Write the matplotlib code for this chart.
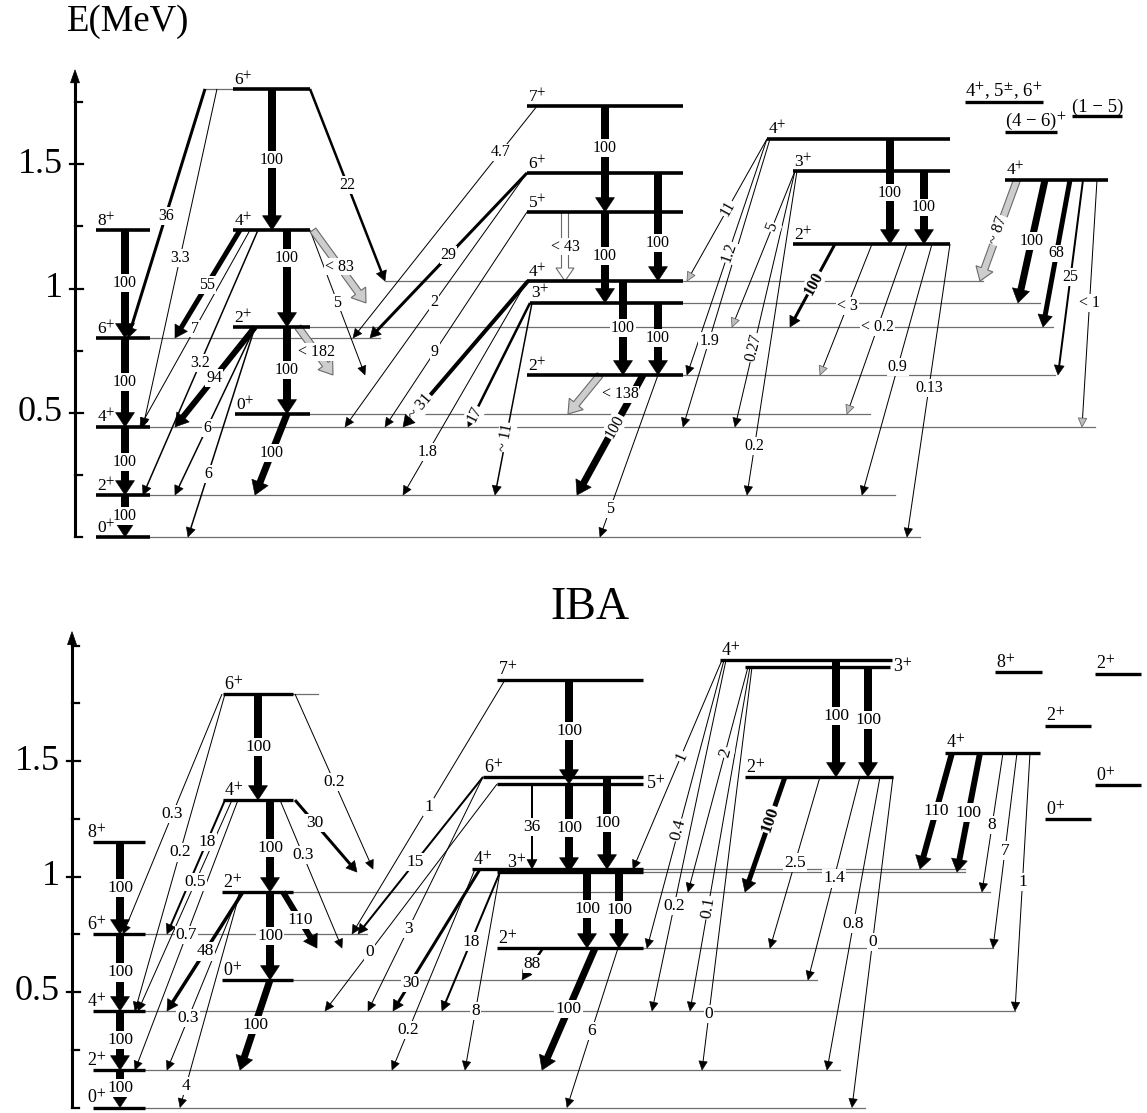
import numpy as np
import matplotlib.pyplot as plt
from matplotlib.patches import Polygon

plt.rcParams['font.family'] = ['Liberation Serif', 'DejaVu Serif']
plt.rcParams['mathtext.fontset'] = 'stix'

# ---------------- experimental scheme ----------------
exp_keys = ['g0', 'g2', 'g4', 'g6', 'g8', 'b0', 'b2', 'b4', 'b6',
            'c2', 'c3', 'c4', 'c5', 'c6', 'c7', 'd2', 'd3', 'd4', 'e4']
exp_spins = ['0', '2', '4', '6', '8', '0', '2', '4', '6',
             '2', '3', '4', '5', '6', '7', '2', '3', '4', '4']
exp_energy = [0.000, 0.169, 0.443, 0.801, 1.235, 0.495, 0.845, 1.235, 1.803,
              0.652, 0.942, 1.030, 1.308, 1.465, 1.734, 1.179, 1.473, 1.602, 1.437]

# unresolved groups of states (text above a line)
exp_group_text = [r'4$^{+}$, 5$^{\pm}$, 6$^{+}$', r'(4 − 6)$^{+}$', '(1 − 5)']
exp_group_energy = [1.750, 1.630, 1.694]

# (from, to, relative intensity)
exp_gammas = [
    ('g8', 'g6', '100'), ('g6', 'g4', '100'), ('g4', 'g2', '100'), ('g2', 'g0', '100'),
    ('b6', 'b4', '100'), ('b4', 'b2', '100'), ('b2', 'b0', '100'), ('b0', 'g2', '100'),
    ('b6', 'g6', '36'), ('b6', 'g4', '3.3'), ('b6', 'c4', '22'),
    ('b4', 'g6', '55'), ('b4', 'g4', '7'), ('b4', 'g2', '3.2'), ('b4', 'c2', '5'),
    ('b4', 'c3', '< 83'),
    ('b2', 'g4', '94'), ('b2', 'g2', '6'), ('b2', 'g0', '6'), ('b2', 'c2', '< 182'),
    ('c7', 'c5', '100'), ('c6', 'c4', '100'), ('c5', 'c3', '100'), ('c4', 'c2', '100'),
    ('c3', 'c2', '100'), ('c5', 'c4', '< 43'),
    ('c2', 'g2', '100'), ('c2', 'g0', '5'), ('c2', 'b0', '< 138'),
    ('c7', 'g6', '4.7'), ('c6', 'g6', '29'), ('c6', 'g4', '2'), ('c5', 'g4', '9'),
    ('c4', 'g4', '~ 31'), ('c4', 'g2', '1.8'), ('c3', 'g4', '17'), ('c3', 'g2', '~ 11'),
    ('d4', 'c4', '11'), ('d4', 'c2', '1.2'), ('d4', 'g4', '1.9'),
    ('d3', 'b2', '5'), ('d3', 'g4', '0.27'), ('d3', 'g2', '0.2'),
    ('d4', 'd2', '100'), ('d3', 'd2', '100'),
    ('d2', 'b2', '100'), ('d2', 'c2', '< 3'), ('d2', 'b0', '< 0.2'),
    ('d2', 'g2', '0.9'), ('d2', 'g0', '0.13'),
    ('e4', 'c4', '~ 87'), ('e4', 'c3', '100'), ('e4', 'b2', '68'),
    ('e4', 'c2', '25'), ('e4', 'g4', '< 1'),
]

# ---------------- IBA calculation ----------------
iba_keys = ['g0', 'g2', 'g4', 'g6', 'g8', 'b0', 'b2', 'b4', 'b6',
            'c2', 'c3', 'c4', 'c5', 'c6', 'c7', 'd2', 'd3', 'd4', 'e4',
            'f8', 'f2a', 'f2b', 'f0a', 'f0b']
iba_spins = ['0', '2', '4', '6', '8', '0', '2', '4', '6',
             '2', '3', '4', '5', '6', '7', '2', '3', '4', '4',
             '8', '2', '2', '0', '0']
iba_energy = [0.000, 0.162, 0.418, 0.751, 1.149, 0.552, 0.933, 1.331, 1.790,
              0.690, 1.019, 1.032, 1.400, 1.431, 1.851, 1.431, 1.907, 1.937, 1.535,
              1.885, 1.877, 1.652, 1.396, 1.249]

iba_gammas = [
    ('g8', 'g6', '100'), ('g6', 'g4', '100'), ('g4', 'g2', '100'), ('g2', 'g0', '100'),
    ('b6', 'b4', '100'), ('b4', 'b2', '100'), ('b2', 'b0', '100'), ('b0', 'g2', '100'),
    ('b2', 'c2', '110'),
    ('b6', 'g6', '0.3'), ('b6', 'g4', '0.2'), ('b6', 'c4', '0.2'),
    ('b4', 'g6', '18'), ('b4', 'g4', '0.5'), ('b4', 'g2', '0.7'), ('b4', 'c2', '0.3'),
    ('b4', 'c3', '30'),
    ('b2', 'g4', '48'), ('b2', 'g2', '0.3'), ('b2', 'g0', '4'),
    ('c7', 'c5', '100'), ('c5', 'c3', '100'), ('c6', 'c4', '100'), ('c5', 'c4', '36'),
    ('c4', 'c2', '100'), ('c3', 'c2', '100'),
    ('c7', 'g6', '1'), ('c6', 'g6', '15'), ('c6', 'g4', '3'), ('c5', 'g4', '0'),
    ('c4', 'g4', '30'), ('c4', 'g2', '0.2'), ('c3', 'g4', '18'), ('c3', 'g2', '8'),
    ('c2', 'g2', '100'), ('c2', 'g0', '6'), ('c2', 'b0', '88'),
    ('d4', 'c4', '1'), ('d4', 'c2', '0.4'), ('d3', 'b2', '2'),
    ('d4', 'g4', '0.2'), ('d3', 'g4', '0.1'), ('d3', 'g2', '0'),
    ('d4', 'd2', '100'), ('d3', 'd2', '100'),
    ('d2', 'b2', '100'), ('d2', 'c2', '2.5'), ('d2', 'b0', '1.4'),
    ('d2', 'g2', '0.8'), ('d2', 'g0', '0'),
    ('e4', 'c4', '110'), ('e4', 'c3', '100'), ('e4', 'b2', '8'),
    ('e4', 'c2', '7'), ('e4', 'g4', '1'),
]

# ---------------- layout (horizontal placement, widths, styles) ----------------
# level: thick x0, x1, thin line from, to, place of the spin label
exp_level_x = [
    (96, 150, 150, 920, 'l'), (96, 150, 150, 895, 'l'), (96, 150, 150, 1095, 'l'),
    (96, 150, 150, 380, 'l'), (96, 150, None, None, 'l'),
    (235, 310, 310, 870, 'l'), (233, 310, 310, 1053, 'l'), (233, 310, None, None, 'l'),
    (233, 310, 205, 233, 'l'),
    (527, 683, 683, 1055, 'l'), (530, 683, 683, 1040, 'l'), (527, 683, 385, 983, 'l'),
    (527, 683, None, None, 'l'), (527, 683, None, None, 'l'), (527, 683, None, None, 'l'),
    (793, 950, None, None, 'l'), (793, 950, None, None, 'l'), (767, 950, None, None, 'l'),
    (1005, 1108, None, None, 'l'),
]
exp_group_x = [(965, 1043), (1005, 1057), (1072, 1122)]

# arrow: x start, x end, shaft width px, kind, label position along arrow,
# label rotation (0 flat, 1 along arrow, 2 along arrow bold), label x shift px
exp_gamma_x = [
    (125, 125, 8, 'k', 0.49, 0, 0), (125, 125, 8, 'k', 0.5, 0, 0),
    (125, 125, 8, 'k', 0.51, 0, 0), (125, 125, 8, 'k', 0.5, 0, 0),
    (272, 272, 8, 'k', 0.5, 0, 0), (287, 287, 8, 'k', 0.29, 0, 0),
    (287, 287, 8, 'k', 0.49, 0, 0), (287, 255, 7, 'k', 0.48, 0, 0),
    (205, 128, 3, 'k', 0.51, 0, 0), (217, 143, 1, 'k', 0.5, 0, 0),
    (310, 385, 2.5, 'k', 0.5, 0, 0),
    (240, 175, 5, 'k', 0.51, 0, 0), (250, 140, 1, 'k', 0.5, 0, 0),
    (258, 143, 1.5, 'k', 0.5, 0, 0), (310, 365, 1, 'k', 0.5, 0, 0),
    (313, 366, 0, 'g', 0.5, 0, 0),
    (255, 175, 6, 'k', 0.51, 0, 0), (255, 175, 1.5, 'k', 0.6, 0, 0),
    (255, 188, 1.5, 'k', 0.7, 0, 0), (298, 333, 0, 'g', 0.52, 0, 0),
    (605, 605, 8, 'k', 0.4, 0, 0), (658, 658, 8, 'k', 0.65, 0, 0),
    (605, 605, 8, 'k', 0.48, 0, 0), (623, 623, 8, 'k', 0.5, 0, 0),
    (658, 658, 8, 'k', 0.49, 0, 0), (565, 565, 0, 'h', 0.5, 0, 0),
    (643, 577, 7, 'k', 0.43, 1, 0), (658, 600, 1, 'k', 0.83, 0, 0),
    (600, 568, 0, 'g', 0.5, 0, 36),
    (537, 353, 1, 'k', 0.2, 0, 0), (527, 370, 3, 'k', 0.5, 0, 0),
    (527, 345, 1, 'k', 0.51, 0, 0), (527, 385, 1, 'k', 0.65, 0, 0),
    (528, 403, 4, 'k', 0.86, 1, 0), (527, 403, 1, 'k', 0.8, 0, 0),
    (530, 468, 2.5, 'k', 0.9, 1, 0), (532, 495, 1.5, 'k', 0.7, 1, 0),
    (767, 687, 1, 'o', 0.49, 1, 0), (767, 687, 1, 'k', 0.48, 1, 0),
    (770, 683, 1, 'k', 0.7, 0, 0),
    (795, 732, 1, 'o', 0.36, 1, 0), (795, 735, 1, 'k', 0.69, 1, 0),
    (797, 747, 1, 'k', 0.85, 0, 0),
    (890, 890, 8, 'k', 0.51, 0, 0), (924, 924, 8, 'k', 0.5, 0, 0),
    (835, 790, 3, 'k', 0.47, 2, 0), (872, 820, 1, 'o', 0.47, 0, 0),
    (907, 847, 1, 'o', 0.49, 0, 0),
    (932, 862, 1, 'k', 0.49, 0, 0), (950, 907, 1, 'k', 0.49, 0, 0),
    (1017, 980, 0, 'g', 0.5, 1, 0), (1045, 1018, 7, 'k', 0.5, 0, 0),
    (1070, 1043, 5, 'k', 0.5, 0, 0), (1083, 1058, 2, 'k', 0.5, 0, 0),
    (1097, 1082, 1, 'o', 0.5, 0, 0),
]

iba_level_x = [
    (93, 145, 145, 865, 'L'), (93, 145, 145, 840, 'L'), (93, 145, 145, 1015, 'L'),
    (93, 145, 145, 367, 'L'), (93, 145, None, None, 'L'),
    (222, 293, 293, 817, 'l'), (222, 293, 293, 990, 'l'), (223, 293, None, None, 'l'),
    (223, 293, 293, 318, 'l'),
    (497, 643, 643, 993, 'l'), (497, 643, 643, 965, 'l3'), (472, 643, 643, 965, 'l'),
    (497, 643, None, None, 'r'), (483, 643, None, None, 'l'), (497, 643, None, None, 'l'),
    (745, 893, None, None, 'l'), (745, 890, None, None, 'r'), (720, 892, None, None, 'l'),
    (945, 1040, None, None, 'l'),
    (995, 1042, None, None, 'l'), (1095, 1141, None, None, 'l'),
    (1045, 1091, None, None, 'l'), (1095, 1141, None, None, 'l'),
    (1045, 1091, None, None, 'l'),
]

iba_gamma_x = [
    (120, 120, 8, 'k', 0.5, 0, 0), (120, 120, 8, 'k', 0.5, 0, 0),
    (120, 120, 8, 'k', 0.49, 0, 0), (120, 120, 8, 'k', 0.49, 0, 0),
    (258, 258, 8, 'k', 0.5, 0, 0), (270, 270, 8, 'k', 0.52, 0, 0),
    (270, 270, 8, 'k', 0.5, 0, 0), (270, 240, 7, 'k', 0.5, 0, 0),
    (283, 317, 6, 'k', 0.5, 0, 0),
    (222, 123, 1, 'k', 0.5, 0, 0), (225, 135, 1, 'k', 0.5, 0, 0),
    (295, 373, 1, 'k', 0.5, 0, 0),
    (225, 167, 2, 'k', 0.31, 0, 0), (232, 138, 1, 'k', 0.39, 0, 0),
    (238, 135, 1, 'k', 0.5, 0, 0), (280, 342, 1, 'k', 0.37, 0, 0),
    (295, 357, 3, 'k', 0.32, 0, 0),
    (243, 167, 3.5, 'k', 0.5, 0, 0), (240, 167, 1, 'k', 0.71, 0, 0),
    (240, 180, 1, 'k', 0.9, 0, 0),
    (569, 569, 8, 'k', 0.49, 0, 0), (569, 569, 8, 'k', 0.5, 0, 0),
    (607, 607, 8, 'k', 0.5, 0, 0), (532, 532, 2, 'k', 0.5, 0, 0),
    (587, 587, 8, 'k', 0.5, 0, 0), (619, 619, 8, 'k', 0.5, 0, 0),
    (505, 352, 1, 'k', 0.5, 0, 0), (483, 358, 2, 'k', 0.54, 0, 0),
    (483, 368, 1, 'k', 0.65, 0, 0), (497, 325, 1, 'k', 0.74, 0, 0),
    (480, 393, 3, 'k', 0.8, 0, 0), (475, 392, 1, 'k', 0.8, 0, 0),
    (500, 442, 2, 'k', 0.5, 0, 0), (500, 465, 1, 'k', 0.7, 0, 0),
    (595, 542, 7, 'k', 0.5, 0, 0), (618, 567, 1, 'k', 0.52, 0, 0),
    (543, 522, 2.5, 'k', 0.5, 0, 0),
    (722, 633, 1, 'k', 0.46, 1, 0), (724, 647, 1, 'k', 0.59, 1, 0),
    (748, 688, 1, 'k', 0.38, 1, 0),
    (726, 652, 1, 'k', 0.7, 0, 0), (750, 690, 1, 'k', 0.7, 1, 0),
    (752, 702, 1, 'k', 0.86, 0, 0),
    (836, 836, 8, 'k', 0.48, 0, 0), (868, 868, 8, 'k', 0.48, 0, 0),
    (785, 745, 5, 'k', 0.37, 2, 0), (820, 770, 1, 'k', 0.5, 0, 0),
    (860, 808, 1, 'k', 0.5, 0, 0),
    (880, 827, 1, 'k', 0.5, 0, 0), (893, 852, 1, 'k', 0.5, 0, 0),
    (952, 920, 6, 'k', 0.5, 0, 0), (980, 957, 6, 'k', 0.5, 0, 0),
    (1003, 982, 1, 'k', 0.52, 0, 0), (1017, 993, 1, 'k', 0.5, 0, 0),
    (1030, 1015, 1, 'k', 0.5, 0, 0),
]

major_ticks = [0.5, 1.0, 1.5]
exp_minor = [0.0, 0.25, 0.75, 1.25, 1.75]
iba_minor = [0.0, 0.25, 0.75, 1.25, 1.75, 2.0]


def arrow(ax, xa, ea, xb, eb, w, kind):
    fwd = ax.transData.transform
    inv = ax.transData.inverted().transform
    p0, p1 = fwd((xa, ea)), fwd((xb, eb))
    d = p1 - p0
    u = d / np.hypot(*d)
    n = np.array([-u[1], u[0]])
    if kind in ('g', 'h'):
        # broad outlined arrow
        sw, hw, hl = 3.5, 9.0, 13.0
        base = p1 - u * hl
        pts = [p0 + n * sw, base + n * sw, base + n * hw, p1,
               base - n * hw, base - n * sw, p0 - n * sw]
        fc = '#cdcdcd' if kind == 'g' else 'white'
        ax.add_patch(Polygon(inv(np.array(pts)), closed=True, fc=fc,
                             ec='#6a6a6a', lw=0.8, zorder=2))
        return
    hw = 7 + 1.5 * w
    hl = 8 + 0.8 * w
    base = p1 - u * hl
    sh = inv(np.array([p0, base + u]))
    ax.plot(sh[:, 0], sh[:, 1], color='k', lw=w * 0.72,
            solid_capstyle='butt', zorder=2)
    head = inv(np.array([p1, base + n * hw / 2, base - n * hw / 2]))
    if kind == 'o':
        ax.add_patch(Polygon(head, closed=True, fc='#bdbdbd', ec='#6a6a6a',
                             lw=0.6, zorder=2))
    else:
        ax.add_patch(Polygon(head, closed=True, fc='k', ec='k', lw=0.4, zorder=2))


def draw_scheme(ax, keys, spins, energy, level_x, gammas, gamma_x,
                fs_gamma, fs_spin, lw_level):
    E = dict(zip(keys, energy))
    for s, e, (x0, x1, ta, tb, side) in zip(spins, energy, level_x):
        if ta is not None:
            ax.plot([ta, tb], [e, e], color='#6e6e6e', lw=0.9, zorder=1)
        ax.plot([x0, x1], [e, e], color='k', lw=lw_level,
                solid_capstyle='butt', zorder=3)
        txt = s + r'$^{+}$'
        if side == 'r':
            ax.text(x1 + 3, e, txt, ha='left', va='center', fontsize=fs_spin, zorder=6)
        else:
            dx = {'l': 1, 'L': -6, 'l3': 10}[side]
            ax.text(x0 + dx, e, txt, ha='left', va='bottom', fontsize=fs_spin, zorder=6)

    fwd = ax.transData.transform
    inv = ax.transData.inverted().transform
    for (a, b, lab), (xa, xb, w, kind, t, rot, shift) in zip(gammas, gamma_x):
        arrow(ax, xa, E[a], xb, E[b], w, kind)
        p0, p1 = fwd((xa, E[a])), fwd((xb, E[b]))
        p = p0 + t * (p1 - p0) + np.array([shift, 0])
        lx, ly = inv(p)
        ang = 0.0
        if rot:
            ang = np.degrees(np.arctan2(p1[1] - p0[1], p1[0] - p0[0]))
            if ang <= -90:
                ang += 180
            elif ang > 90:
                ang -= 180
        ax.text(lx, ly, lab, ha='center', va='center', fontsize=fs_gamma,
                rotation=ang, rotation_mode='anchor',
                fontweight='bold' if rot == 2 else 'normal',
                bbox=dict(boxstyle='square,pad=0.06', fc='white', ec='none'),
                zorder=5)


def draw_axis(ax, x, top, minor):
    ax.plot([x, x], [0, top - 0.04], color='k', lw=2.2, solid_capstyle='butt', zorder=4)
    fwd = ax.transData.transform
    inv = ax.transData.inverted().transform
    tip = fwd((x, top))
    head = inv(np.array([tip, tip + [-4.5, -13], tip + [4.5, -13]]))
    ax.add_patch(Polygon(head, closed=True, fc='k', ec='k', lw=0.5, zorder=4))
    for e in minor:
        ax.plot([x, x + 7], [e, e], color='k', lw=1.6, zorder=4)
    for e in major_ticks:
        ax.plot([x - 5, x + 8], [e, e], color='k', lw=1.6, zorder=4)
        ax.text(x - 12, e, f'{e:g}', ha='right', va='center', fontsize=26)


W, H = 1147, 1113
fig = plt.figure(figsize=(W / 100, H / 100), dpi=100)

# top panel: zero energy at row 537, 248.5 px per MeV
ax1 = fig.add_axes([0, 1 - 560 / H, 1, 560 / H])
ax1.set_xlim(0, W)
ax1.set_ylim((537 - 560) / 248.5, 537 / 248.5)
ax1.axis('off')

# bottom panel: zero energy at row 1107.5, 231 px per MeV
ax2 = fig.add_axes([0, 0, 1, 553 / H])
ax2.set_xlim(0, W)
ax2.set_ylim((1107.5 - 1113) / 231, (1107.5 - 560) / 231)
ax2.axis('off')

draw_axis(ax1, 75, 1.88, exp_minor)
draw_scheme(ax1, exp_keys, exp_spins, exp_energy, exp_level_x,
            exp_gammas, exp_gamma_x, 11.5, 12.5, 2.6)
for txt, e, (x0, x1) in zip(exp_group_text, exp_group_energy, exp_group_x):
    ax1.plot([x0, x1], [e, e], color='k', lw=2.4, solid_capstyle='butt', zorder=3)
    ax1.text(x0, e, txt, ha='left', va='bottom', fontsize=13.5, zorder=6)

draw_axis(ax2, 72, 2.06, iba_minor)
draw_scheme(ax2, iba_keys, iba_spins, iba_energy, iba_level_x,
            iba_gammas, iba_gamma_x, 12.5, 13, 2.4)

fig.text(67 / W, 1 - 22 / H, 'E(MeV)', ha='left', va='center', fontsize=26.5)
fig.text(590 / W, 1 - 608 / H, 'IBA', ha='center', va='center', fontsize=33)

fig.savefig('out.png', dpi=100, facecolor='white')
